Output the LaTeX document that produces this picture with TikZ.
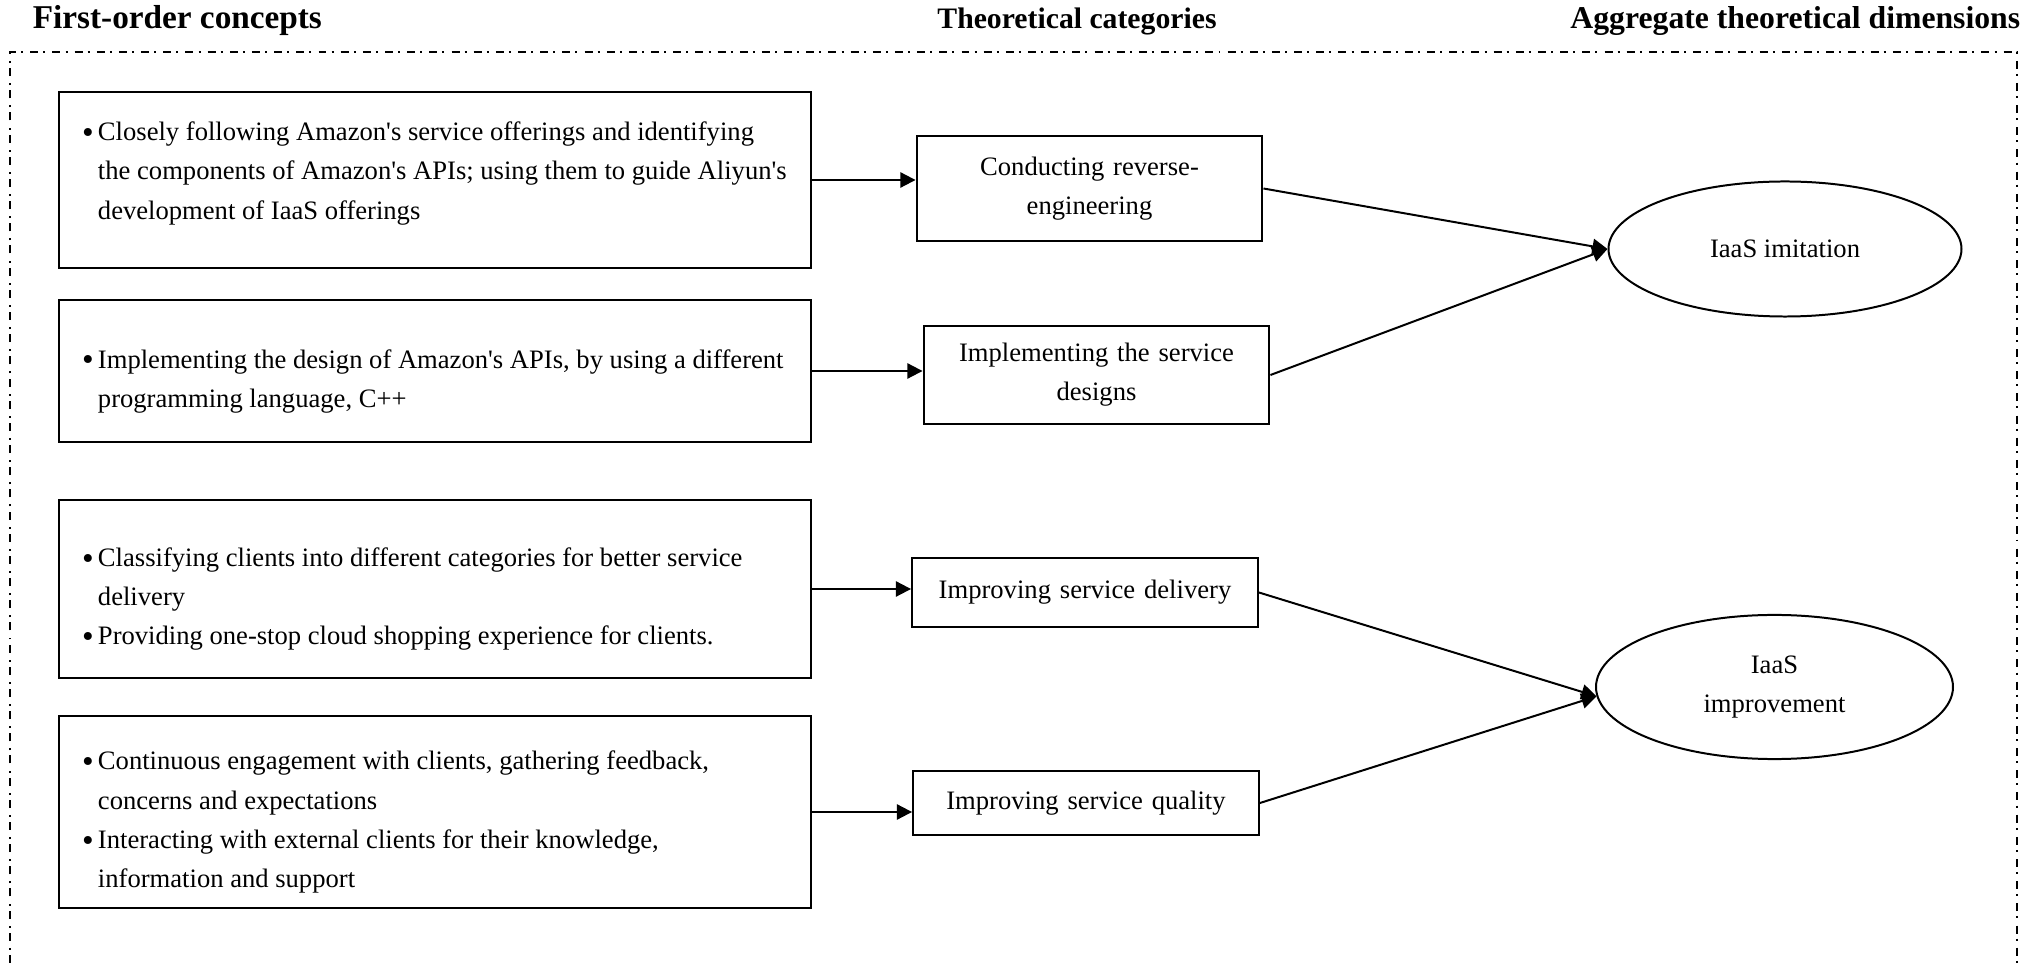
\documentclass[tikz,border=0pt]{standalone}
\usepackage{fontspec}
\setmainfont{Liberation Serif}[Ligatures=TeXOff]
\usetikzlibrary{arrows.meta,shapes.geometric}
\newcommand{\bpoint}{\par\noindent\hangindent=7.2pt\hangafter=1\makebox[7.2pt][l]{\raisebox{-1.2pt}{\fontsize{15}{15}\selectfont\textbullet}}}
\tikzset{
	concept/.style={draw, line width=0.9pt, minimum width=339.2pt, text width=318.4pt, inner xsep=10.4pt, align=flush left, font=\fontsize{12}{17.7}\selectfont},
	category/.style={draw, line width=0.9pt, minimum width=156pt, text width=150pt, inner xsep=3pt, align=center, font=\fontsize{12}{17.7}\selectfont},
	dimension/.style={draw, ellipse, line width=0.9pt, inner sep=0pt, align=center, font=\fontsize{12}{17.7}\selectfont},
	header/.style={font=\fontsize{#1}{18}\selectfont\bfseries},
	link/.style={line width=0.9pt, -{Triangle[length=6.8pt, width=6.8pt]}},
	outerframe/.style={line width=0.8pt, dash pattern=on 3.6pt off 2.3pt on 0.9pt off 3.2pt}
}

\begin{document}
\begin{tikzpicture}[x=0.451pt, y=-0.451pt]
			%%%%% START %%%%%
			\useasboundingbox (0,0) rectangle (2031,963);
			
			\draw[outerframe] (10,963) -- (10,52) -- (2017,52) -- (2017,963);
			
			\node[header=15, anchor=west] (h1) at (25,21) {First-order concepts};
			\node[header=13.4] (h2) at (1077,21) {Theoretical categories};
			\node[header=14.3, anchor=east] (h3) at (2028,21) {Aggregate theoretical dimensions};
			
			\node[concept, minimum height=79.4pt] (b1) at (435,180) {\bpoint Closely following Amazon's service offerings and identifying\newline the components of Amazon's APIs; using them to guide Aliyun's\newline development of IaaS offerings\par\noindent\mbox{}\par};
			\node[concept, minimum height=64pt] (b2) at (435,371) {\bpoint Implementing the design of Amazon's APIs, by using a different\newline programming language, C++\par};
			\node[concept, minimum height=80.7pt] (b3) at (435,589) {\bpoint Classifying clients into different categories for better service\newline delivery\bpoint Providing one-stop cloud shopping experience for clients.\par};
			\node[concept, minimum height=86.6pt] (b4) at (435,812) {\bpoint Continuous engagement with clients, gathering feedback,\newline concerns and expectations\bpoint Interacting with external clients for their knowledge,\newline information and support\par};
			
			\node[category, minimum height=47.4pt] (c1) at (1089.5,188.5) {Conducting reverse-\\engineering};
			\node[category, minimum height=44.2pt] (c2) at (1096.5,375) {Implementing the service\\designs};
			\node[category, minimum height=31.1pt] (c3) at (1085,592.5) {Improving service delivery};
			\node[category, minimum height=28.9pt] (c4) at (1086,803) {Improving service quality};
			
			\node[dimension, minimum width=159.2pt, minimum height=60.9pt] (e1) at (1785,249) {IaaS imitation};
			\node[dimension, minimum width=161pt, minimum height=65pt] (e2) at (1774.5,687) {IaaS\\improvement};
			
			\draw[link] (b1.east) -- (b1.east -| c1.west);
			\draw[link] (b2.east) -- (b2.east -| c2.west);
			\draw[link] (b3.east) -- (b3.east -| c3.west);
			\draw[link] (b4.east) -- (b4.east -| c4.west);
			
			\draw[link] (c1.east) -- (e1.west);
			\draw[link] (c2.east) -- (e1.west);
			\draw[link] (c3.east) -- (e2.183);
			\draw[link] (c4.east) -- (e2.183);
			
			%%%%% END %%%%%
		\end{tikzpicture}
\end{document}
